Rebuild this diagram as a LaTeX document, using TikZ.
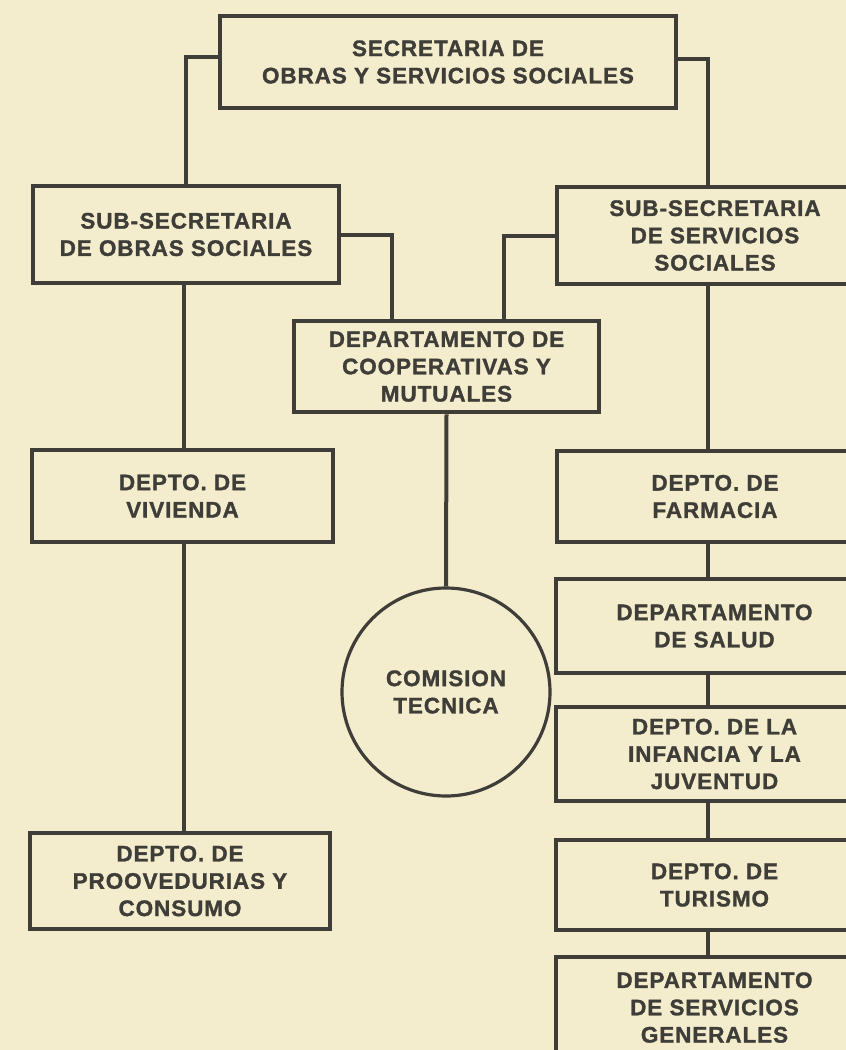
\documentclass[tikz,border=0pt]{standalone}
\usepackage{fontspec}
\newfontfamily\orgfont{Liberation Sans}[LetterSpace=4, BoldFeatures={FakeBold=1.3}]
\definecolor{paper}{RGB}{243,237,206}
\definecolor{ink}{RGB}{62,61,56}
\begin{document}
\begin{tikzpicture}[x=1pt,y=-1pt,
  box/.style={draw=ink, line width=4.5pt, rectangle, align=center, text=ink,
    font=\orgfont\bfseries\fontsize{22.5}{27.3}\selectfont, inner sep=0pt},
  roundbox/.style={draw=ink, line width=3.2pt, circle, align=center, text=ink,
    font=\orgfont\bfseries\fontsize{22.5}{27.3}\selectfont, inner sep=0pt},
  link/.style={draw=ink, line width=4pt}]
\useasboundingbox (0,0) rectangle (846,1050);
\clip (0,0) rectangle (846,1050);
\fill[paper] (0,0) rectangle (846,1050);

% vertical line positions
\coordinate (lv) at (184,0);
\coordinate (rv) at (708,0);
\coordinate (cl) at (392,0);
\coordinate (cr) at (504,0);

\node[box, minimum width=456pt, minimum height=92pt] (top) at (448,62) {SECRETARIA DE\\OBRAS Y SERVICIOS SOCIALES};
\node[box, minimum width=306pt, minimum height=97pt] (leftsub) at (186,234.5) {SUB-SECRETARIA\\DE OBRAS SOCIALES};
\node[box, minimum width=316pt, minimum height=97pt] (rightsub) at (715,235.5) {SUB-SECRETARIA\\DE SERVICIOS\\SOCIALES};
\node[box, minimum width=305pt, minimum height=91pt] (coop) at (446.5,366.5) {DEPARTAMENTO DE\\COOPERATIVAS Y\\MUTUALES};
\node[box, minimum width=301pt, minimum height=92pt] (viv) at (182.5,496) {DEPTO. DE\\VIVIENDA};
\node[box, minimum width=300pt, minimum height=96pt] (proov) at (180,881) {DEPTO. DE\\PROOVEDURIAS Y\\CONSUMO};
\node[box, minimum width=316pt, minimum height=91pt] (farm) at (715,496.5) {DEPTO. DE\\FARMACIA};
\node[box, minimum width=317pt, minimum height=94pt] (salud) at (714.5,626) {DEPARTAMENTO\\DE SALUD};
\node[box, minimum width=317pt, minimum height=94pt] (inf) at (714.5,754) {DEPTO. DE LA\\INFANCIA Y LA\\JUVENTUD};
\node[box, minimum width=317pt, minimum height=90pt] (tur) at (714.5,885) {DEPTO. DE\\TURISMO};
\node[box, minimum width=317pt, minimum height=101pt] (serv) at (714.5,1007.5) {DEPARTAMENTO\\DE SERVICIOS\\GENERALES};
\node[roundbox, minimum size=208pt] (com) at (446,692) {COMISION\\TECNICA};

% connectors
\draw[link] ([yshift=5pt]top.west) -| (leftsub.north);
\draw[link] ([yshift=3pt]top.east) -| (rightsub.north -| rv);
\draw[link] (leftsub.east) -| (coop.north -| cl);
\draw[link] (rightsub.west) -| (coop.north -| cr);
\draw[link] (coop.south) -- (com.north);
\draw[link] (leftsub.south -| lv) -- (viv.north -| lv);
\draw[link] (viv.south -| lv) -- (proov.north -| lv);
\draw[link] (rightsub.south -| rv) -- (farm.north -| rv);
\draw[link] (farm.south -| rv) -- (salud.north -| rv);
\draw[link] (salud.south -| rv) -- (inf.north -| rv);
\draw[link] (inf.south -| rv) -- (tur.north -| rv);
\draw[link] (tur.south -| rv) -- (serv.north -| rv);
\end{tikzpicture}
\end{document}
